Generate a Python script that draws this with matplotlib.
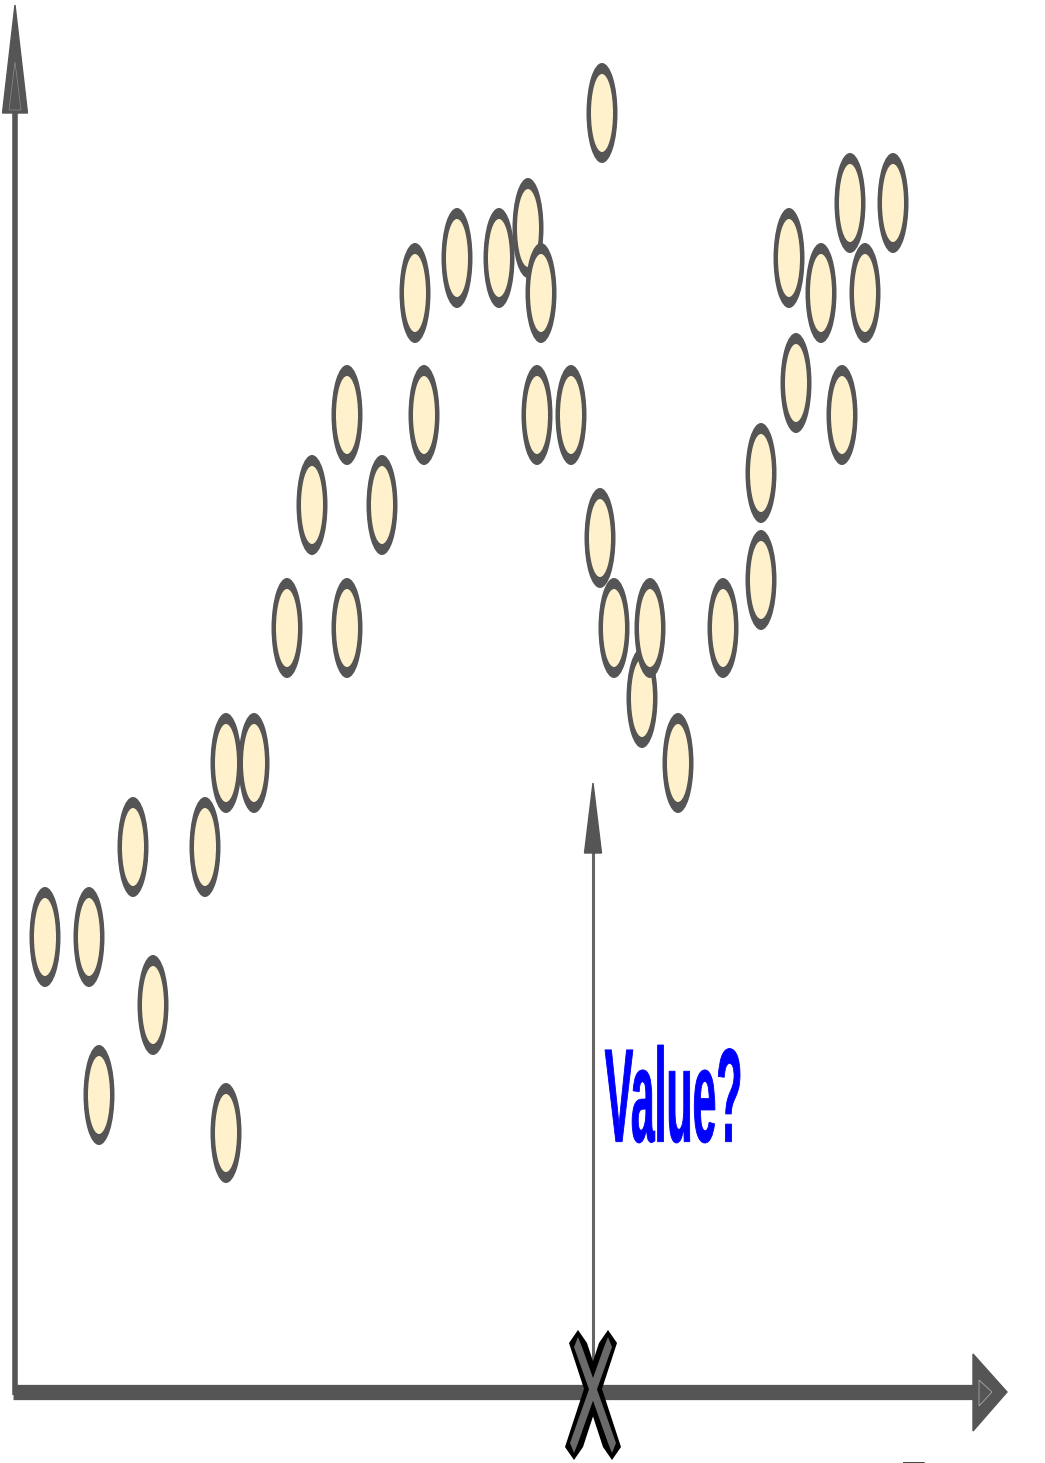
import matplotlib
matplotlib.use("Agg")
import matplotlib.pyplot as plt
from matplotlib.patches import Ellipse, Polygon, PathPatch
from matplotlib.textpath import TextPath
from matplotlib.font_manager import FontProperties
from matplotlib.transforms import Affine2D

# sample points (feature, value), origin at the axes corner
feature = [30, 74, 84, 118, 138, 190, 211, 211, 239, 272, 332, 297, 367, 332, 409,
           400, 442, 484, 513, 526, 522, 556, 587, 585, 599, 627, 635, 663, 708,
           746, 746, 781, 827, 774, 806, 850, 835, 878]
value = [455, 455, 297, 545, 387, 545, 259, 629, 629, 764, 764, 887, 887, 977, 977,
         1099, 1134, 1134, 1164, 1099, 977, 977, 1279, 854, 764, 694, 764, 629, 764,
         812, 919, 1009, 977, 1134, 1099, 1099, 1189, 1189]

query_x = 578
query_label = "Value?"
x_label = "Feature"

EDGE = "#555555"
FILL = "#fff1cc"


def arm(x_top, x_bot, y_top, y_bot, w, tip):
    """Pointed bar from (x_top, y_top) down to (x_bot, y_bot)."""
    return [[x_top, y_top], [x_top + w, y_top - tip], [x_bot + w, y_bot + tip],
            [x_bot, y_bot], [x_bot - w, y_bot + tip], [x_top - w, y_top - tip]]


fig = plt.figure(figsize=(10.45, 14.63), dpi=100)
ax = fig.add_axes([0, 0, 1, 1])
ax.set_xlim(-15, 1030)
ax.set_ylim(-71, 1392)
ax.axis("off")

# axes arrows
ax.plot([0, 0], [-3, 1285], color=EDGE, lw=4, solid_capstyle="butt", zorder=1)
ax.add_patch(Polygon([[-12.5, 1279], [12.5, 1279], [0, 1387]], closed=True,
                     facecolor=EDGE, edgecolor=EDGE, lw=1, zorder=2))
ax.add_patch(Polygon([[-6, 1282], [6, 1282], [0, 1330]], closed=True,
                     facecolor="none", edgecolor="#8a8a8a", lw=0.5, zorder=3))
ax.plot([-2.5, 962], [0, 0], color=EDGE, lw=11, solid_capstyle="butt", zorder=1)
ax.add_patch(Polygon([[958, 38], [958, -39], [992, 0]], closed=True,
                     facecolor=EDGE, edgecolor=EDGE, lw=1, zorder=2))
ax.add_patch(Polygon([[964, 12], [964, -14], [977, 0]], closed=True,
                     facecolor="none", edgecolor="#aaaaaa", lw=0.6, zorder=3))

# points: stretched circles, the outline is thicker at top and bottom
for i, (fx, vy) in enumerate(zip(feature, value)):
    z = 4 + i * 0.01
    ax.add_patch(Ellipse((fx, vy), 31, 100, facecolor=EDGE, edgecolor="none", zorder=z))
    ax.add_patch(Ellipse((fx, vy), 22, 78, facecolor=FILL, edgecolor="none", zorder=z + 0.005))

# query arrow
ax.plot([query_x, query_x], [0, 545], color="#666666", lw=2.2, zorder=5)
ax.add_patch(Polygon([[query_x - 8.5, 539], [query_x + 8.5, 539], [query_x, 609]],
                     closed=True, facecolor="#555555", edgecolor="#555555", lw=1, zorder=6))

# cross marker at the query position
for sgn in (-1, 1):
    xt, xb = query_x + sgn * 15, query_x - sgn * 19
    ax.add_patch(Polygon(arm(xt, xb, 62, -68, 9, 13), closed=True,
                         facecolor="black", edgecolor="none", zorder=7))
for sgn in (-1, 1):
    xt, xb = query_x + sgn * 15, query_x - sgn * 19
    ax.add_patch(Polygon(arm(xt, xb, 55, -61, 4, 10), closed=True,
                         facecolor="#6a6a6a", edgecolor="none", zorder=8))

# stretched text as paths
prop = FontProperties(family="Liberation Sans", weight="bold")
tp = TextPath((0, 0), query_label, size=1, prop=prop)
ext = tp.get_extents()
sx = 135 / ext.width
sy = 98 / ext.height
path = Affine2D().translate(-ext.x0, -ext.y0).scale(sx, sy).translate(590, 249).transform_path(tp)
ax.add_patch(PathPatch(path, facecolor="#0000ff", edgecolor="#0000ff", lw=0.6, zorder=9))

tp2 = TextPath((0, 0), x_label, size=1, prop=prop)
ext2 = tp2.get_extents()
path2 = Affine2D().translate(-ext2.x0, 0).scale(sx, sy).translate(888, -66 - 0.72 * sy).transform_path(tp2)
ax.add_patch(PathPatch(path2, facecolor="black", edgecolor="none", zorder=9))

fig.savefig("out.png", dpi=100)
